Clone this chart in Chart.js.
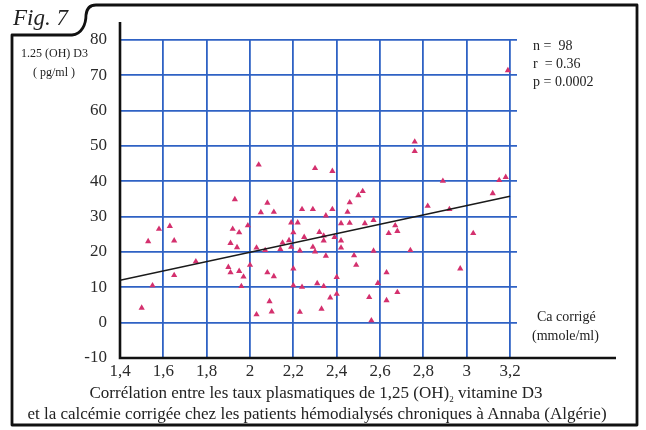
<!DOCTYPE html>
<html>
<head>
<meta charset="utf-8">
<script src="https://cdn.jsdelivr.net/npm/chart.js@4.4.1/dist/chart.umd.min.js"></script>
<style>
  body { margin: 0; background: #fff; }
  #wrap { position: relative; width: 646px; height: 430px; font-family: "Liberation Serif", "DejaVu Serif", serif; color: #222; }
  #wrap canvas { position: absolute; left: 0; top: 0; }
  .txt { position: absolute; white-space: nowrap; line-height: 1; }
</style>
</head>
<body>
<div id="wrap">
  <canvas id="fig" width="646" height="430"></canvas>
  <div class="txt" style="left:13px; top:6px; font-size:23px; font-style:italic;">Fig. 7</div>
  <div class="txt" style="left:21px; top:47px; font-size:12px;">1.25 (OH) D3</div>
  <div class="txt" style="left:33px; top:66px; font-size:12px;">( pg/ml )</div>
  <div class="txt" style="left:533px; top:37px; font-size:14px; line-height:18px;">n =&nbsp; 98<br>r&nbsp; = 0.36<br>p = 0.0002</div>
  <div class="txt" style="left:537px; top:310px; font-size:14px;">Ca corrigé</div>
  <div class="txt" style="left:532px; top:329px; font-size:14px;">(mmole/ml)</div>
  <div class="txt" style="left:0; width:632px; text-align:center; top:384px; font-size:17px;">Corrélation entre les taux plasmatiques de 1,25 (OH)<sub style="font-size:9px;">2</sub> vitamine D3</div>
  <div class="txt" style="left:0; width:634px; text-align:center; top:405px; font-size:17px;">et la calcémie corrigée chez les patients hémodialysés chroniques à Annaba (Algérie)</div>
</div>
<script>
// Ca corrigé (mmole/ml) and 1,25 (OH)2 D3 (pg/ml)
const caValues = [
  1.93, 2.08, 2.05, 2.11, 2.24, 2.29, 1.58, 1.63, 1.65, 1.53,
  1.92, 1.95, 1.99, 1.91, 1.94, 2.19, 2.22, 2.20, 2.25, 2.32,
  2.15, 2.18, 2.14, 2.19, 2.29, 2.03, 2.07, 2.23, 2.30, 1.75,
  1.65, 1.55, 1.90, 1.91, 1.95, 1.97, 2.00, 1.96, 2.08, 2.11,
  2.20, 2.20, 2.24, 2.31, 1.50, 2.09, 2.10, 2.03, 2.23, 2.33,
  2.89, 3.15, 3.18, 2.52, 2.50, 3.12, 2.46, 2.38, 2.35, 2.45,
  2.82, 2.92, 2.42, 2.46, 2.53, 2.57, 2.67, 2.68, 2.64, 3.03,
  2.34, 2.39, 2.34, 2.42, 2.42, 2.35, 2.48, 2.57, 2.74, 2.49,
  2.97, 2.63, 2.40, 2.34, 2.59, 2.68, 2.40, 2.37, 2.55, 2.63,
  2.56, 2.76, 2.76, 3.19, 2.30, 2.38, 2.04
];
const vitD3Values = [
  34.9, 33.9, 31.2, 31.3, 32.1, 32.1, 26.5, 27.3, 23.2, 23.0,
  26.5, 25.5, 27.5, 22.5, 21.3, 28.3, 28.3, 25.5, 24.2, 25.6,
  22.6, 23.3, 20.8, 21.4, 21.4, 21.2, 20.5, 20.4, 20.1, 17.3,
  13.4, 10.5, 15.7, 14.2, 14.6, 13.0, 16.3, 10.3, 14.2, 13.1,
  15.3, 10.5, 10.1, 11.1, 4.2, 6.0, 3.1, 2.3, 3.0, 3.9,
  40.1, 40.3, 41.2, 37.2, 36.0, 36.6, 34.0, 32.1, 30.3, 31.3,
  33.0, 32.1, 28.1, 28.2, 28.1, 29.0, 27.5, 25.9, 25.3, 25.3,
  24.6, 24.2, 23.2, 23.2, 21.2, 18.9, 19.0, 20.3, 20.5, 16.3,
  15.3, 14.2, 12.9, 10.3, 11.2, 8.6, 8.1, 7.1, 7.2, 6.3,
  0.6, 51.2, 48.5, 71.4, 43.7, 42.9, 44.7
];
// regression line end points
const fitX = [1.4, 3.2];
const fitY = [12.0, 35.8];
// axis ticks
const xTicks = [1.4, 1.6, 1.8, 2.0, 2.2, 2.4, 2.6, 2.8, 3.0, 3.2];
const yTicks = [-10, 0, 10, 20, 30, 40, 50, 60, 70, 80];

const BLUE = '#2f62c4';
const tickFont = { family: '"Liberation Serif", "DejaVu Serif", serif', size: 17 };

const framePlugin = {
    id: 'frame',
    afterDraw(chart) {
        const ctx = chart.ctx;
        const area = chart.chartArea;
        ctx.save();
        ctx.strokeStyle = '#111';
        ctx.lineCap = 'butt';

        // axis lines (y runs past 80, x runs under the unit label)
        ctx.lineWidth = 2.6;
        ctx.beginPath();
        ctx.moveTo(area.left, area.top - 18);
        ctx.lineTo(area.left, area.bottom);
        ctx.lineTo(area.right + 99, area.bottom);
        ctx.stroke();

        // outer frame with the "Fig." tab
        ctx.lineWidth = 2.8;
        ctx.lineJoin = 'round';
        ctx.beginPath();
        ctx.moveTo(12, 425);
        ctx.lineTo(12, 35);
        ctx.lineTo(72, 35);
        ctx.bezierCurveTo(82, 34, 86, 24, 86, 15);
        ctx.quadraticCurveTo(87, 5, 96, 5);
        ctx.lineTo(637, 5);
        ctx.lineTo(637, 425);
        ctx.closePath();
        ctx.stroke();
        ctx.restore();
    }
};

new Chart(document.getElementById('fig'), {
    type: 'scatter',
    data: {
        datasets: [
            {
                type: 'line',
                data: fitX.map((x, i) => ({ x, y: fitY[i] })),
                borderColor: '#1a1a1a',
                borderWidth: 1.6,
                pointRadius: 0,
                fill: false
            },
            {
                data: caValues.map((x, i) => ({ x, y: vitD3Values[i] })),
                pointStyle: 'triangle',
                pointRadius: 3.6,
                backgroundColor: '#d4306e',
                borderColor: '#d4306e',
                borderWidth: 0
            }
        ]
    },
    options: {
        responsive: false,
        animation: false,
        layout: { padding: { left: 0, top: 40, right: 129, bottom: 42 } },
        plugins: { legend: { display: false }, tooltip: { enabled: false } },
        scales: {
            x: {
                type: 'linear',
                min: 1.4,
                max: 3.232,
                afterFit: s => { s.height = 30; },
                afterBuildTicks: s => { s.ticks = xTicks.map(value => ({ value })); },
                ticks: {
                    autoSkip: false,
                    maxRotation: 0,
                    padding: 3,
                    color: '#2a2a2a',
                    font: tickFont,
                    callback: v => String(Math.round(v * 10) / 10).replace('.', ',')
                },
                grid: { color: BLUE, lineWidth: 1.8, drawTicks: false },
                border: { display: false }
            },
            y: {
                min: -10,
                max: 80,
                afterFit: s => { s.width = 120; },
                afterBuildTicks: s => { s.ticks = yTicks.map(value => ({ value })); },
                ticks: { padding: 13, color: '#2a2a2a', font: tickFont },
                grid: { color: BLUE, lineWidth: 1.8, drawTicks: false },
                border: { display: false }
            }
        }
    },
    plugins: [framePlugin]
});
</script>
</body>
</html>
